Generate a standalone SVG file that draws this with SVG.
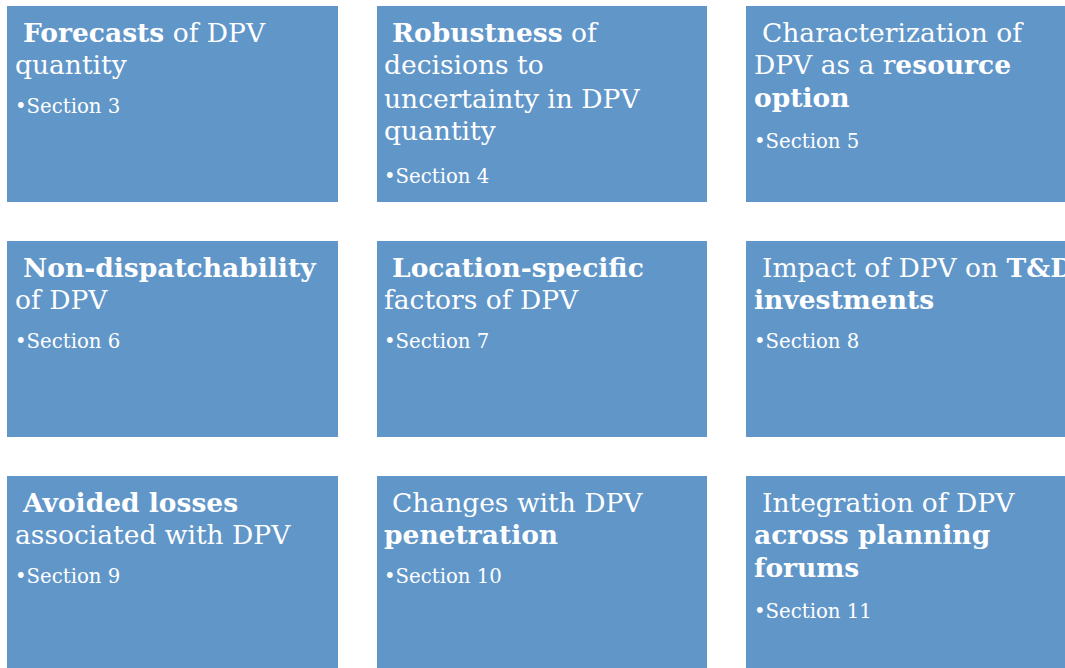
<svg xmlns="http://www.w3.org/2000/svg" width="1065" height="668" viewBox="0 0 1065 668">
<style>
.box{fill:#6196C9}
.t{font-family:"DejaVu Serif","Liberation Serif",serif;font-size:26.5px;fill:#fff}
.s{font-family:"DejaVu Serif","Liberation Serif",serif;font-size:19.7px;fill:#fff}
.b{font-weight:bold}
</style>
<rect width="1065" height="668" fill="#fff"/>
<g id="n1"><rect class="box" x="7" y="6" width="331" height="196"/>
<text class="t" x="23" y="42"><tspan class="b">Forecasts</tspan> of DPV</text>
<text class="t" x="15" y="74">quantity</text>
<text class="s" x="15" y="113">•Section 3</text></g>
<g id="n2"><rect class="box" x="377" y="6" width="330" height="196"/>
<text class="t" x="392" y="42"><tspan class="b">Robustness</tspan> of</text>
<text class="t" x="384" y="74">decisions to</text>
<text class="t" x="384" y="108">uncertainty in DPV</text>
<text class="t" x="384" y="140">quantity</text>
<text class="s" x="384" y="183">•Section 4</text></g>
<g id="n3"><rect class="box" x="746" y="6" width="331" height="196"/>
<text class="t" x="762" y="42">Characterization of</text>
<text class="t" x="754" y="74">DPV as a r<tspan class="b">esource</tspan></text>
<text class="t b" x="754" y="107">option</text>
<text class="s" x="754" y="148">•Section 5</text></g>
<g id="n4"><rect class="box" x="7" y="241" width="331" height="196"/>
<text class="t b" x="23" y="277">Non-dispatchability</text>
<text class="t" x="15" y="309">of DPV</text>
<text class="s" x="15" y="348">•Section 6</text></g>
<g id="n5"><rect class="box" x="377" y="241" width="330" height="196"/>
<text class="t b" x="392" y="277">Location-specific</text>
<text class="t" x="384" y="309">factors of DPV</text>
<text class="s" x="384" y="348">•Section 7</text></g>
<g id="n6"><rect class="box" x="746" y="241" width="331" height="196"/>
<text class="t" x="762" y="277">Impact of DPV on <tspan class="b">T&amp;D</tspan></text>
<text class="t b" x="754" y="309">investments</text>
<text class="s" x="754" y="348">•Section 8</text></g>
<g id="n7"><rect class="box" x="7" y="476" width="331" height="196"/>
<text class="t b" x="23" y="512">Avoided losses</text>
<text class="t" x="15" y="544">associated with DPV</text>
<text class="s" x="15" y="583">•Section 9</text></g>
<g id="n8"><rect class="box" x="377" y="476" width="330" height="196"/>
<text class="t" x="392" y="512">Changes with DPV</text>
<text class="t b" x="384" y="544">penetration</text>
<text class="s" x="384" y="583">•Section 10</text></g>
<g id="n9"><rect class="box" x="746" y="476" width="331" height="196"/>
<text class="t" x="762" y="512">Integration of DPV</text>
<text class="t b" x="754" y="544">across planning</text>
<text class="t b" x="754" y="577">forums</text>
<text class="s" x="754" y="618">•Section 11</text></g>
<g id="connectors"/>
</svg>
